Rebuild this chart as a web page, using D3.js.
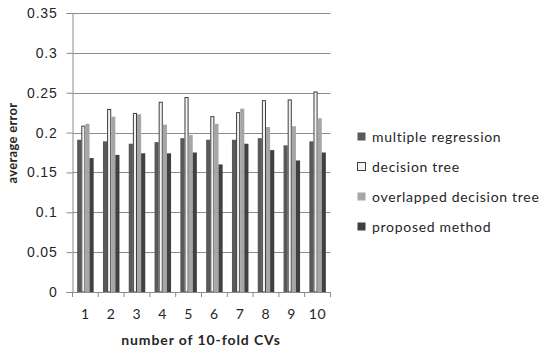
<!DOCTYPE html>
<html>
<head>
<meta charset="utf-8">
<script src="https://cdn.jsdelivr.net/npm/d3@7"></script>
<style>
  html, body { margin: 0; padding: 0; background: #fff; }
  svg { display: block; font-family: Lato, "Open Sans", sans-serif; }
</style>
</head>
<body>
<svg id="chart" width="541" height="349"></svg>
<script>
// Average error for each of ten repetitions of 10-fold cross-validation
const runs = ["1", "2", "3", "4", "5", "6", "7", "8", "9", "10"];
const seriesNames = ["multiple regression", "decision tree", "overlapped decision tree", "proposed method"];
const multipleRegression = [0.191, 0.189, 0.186, 0.188, 0.193, 0.191, 0.191, 0.193, 0.184, 0.189];
const decisionTree       = [0.208, 0.229, 0.224, 0.238, 0.244, 0.220, 0.225, 0.240, 0.241, 0.251];
const overlappedTree     = [0.211, 0.220, 0.223, 0.210, 0.197, 0.211, 0.230, 0.207, 0.208, 0.218];
const proposedMethod     = [0.168, 0.172, 0.174, 0.174, 0.175, 0.160, 0.186, 0.178, 0.165, 0.175];
const yTicks = [0, 0.05, 0.1, 0.15, 0.2, 0.25, 0.3, 0.35];

const seriesValues = [multipleRegression, decisionTree, overlappedTree, proposedMethod];
const fills   = ["#595959", "#f2f2f2", "#a6a6a6", "#404040"];
const strokes = ["none", "#404040", "none", "none"];
const textColor = "#262626";

const svg = d3.select("#chart");
const plot = { left: 72.5, right: 330.5, top: 13, bottom: 292 };

const x = d3.scaleBand().domain(runs).range([plot.left, plot.right]).paddingInner(0.36).paddingOuter(0.18);
const xs = d3.scaleBand().domain(d3.range(seriesNames.length)).range([0, x.bandwidth()]);
const y = d3.scaleLinear().domain([0, 0.35]).range([plot.bottom, plot.top]);

// Horizontal gridlines
svg.append("g")
  .selectAll("line")
  .data(yTicks.slice(1))
  .join("line")
  .attr("x1", plot.left).attr("x2", plot.right)
  .attr("y1", d => Math.round(y(d)) + 0.5).attr("y2", d => Math.round(y(d)) + 0.5)
  .attr("stroke", "#8c8c8c").attr("stroke-width", 1);

// Y axis with its labels
const yAxis = svg.append("g")
  .attr("transform", `translate(${plot.left},0)`)
  .call(d3.axisLeft(y).tickValues(yTicks).tickSize(6).tickPadding(9).tickFormat(d3.format("~g")));
yAxis.select(".domain").attr("stroke", "#8c8c8c");
yAxis.selectAll(".tick line").attr("stroke", "#8c8c8c");
yAxis.selectAll(".tick text")
  .attr("fill", textColor)
  .style("font-size", "14px")
  .style("letter-spacing", "0.8px");

// Bars
const groups = svg.append("g")
  .selectAll("g")
  .data(runs)
  .join("g")
  .attr("transform", d => `translate(${x(d)},0)`);

groups.selectAll("rect")
  .data((d, i) => seriesValues.map((vals, s) => ({ s, v: vals[i] })))
  .join("rect")
  .attr("x", d => xs(d.s) + (d.s === 1 ? 0.5 : 0))
  .attr("width", d => xs.bandwidth() - (d.s === 1 ? 1 : 0))
  .attr("y", d => y(d.v))
  .attr("height", d => y(0) - y(d.v))
  .attr("fill", d => fills[d.s])
  .attr("stroke", d => strokes[d.s])
  .attr("stroke-width", 1);

// X axis: ticks on category boundaries, labels centred under each group
const boundaries = d3.range(runs.length + 1).map(i => plot.left + i * (plot.right - plot.left) / runs.length);
const xAxis = svg.append("g");
xAxis.append("line")
  .attr("x1", plot.left).attr("x2", plot.right)
  .attr("y1", plot.bottom + 0.5).attr("y2", plot.bottom + 0.5)
  .attr("stroke", "#8c8c8c");
xAxis.selectAll("line.tk")
  .data(boundaries)
  .join("line")
  .attr("class", "tk")
  .attr("x1", d => d).attr("x2", d => d)
  .attr("y1", plot.bottom).attr("y2", plot.bottom + 5)
  .attr("stroke", "#8c8c8c");
xAxis.selectAll("text")
  .data(runs)
  .join("text")
  .attr("x", d => x(d) + x.bandwidth() / 2)
  .attr("y", 319)
  .attr("text-anchor", "middle")
  .attr("fill", textColor)
  .style("font-size", "14px")
  .style("letter-spacing", "0.8px")
  .text(d => d);

// Axis titles
svg.append("text")
  .attr("x", 201).attr("y", 345)
  .attr("text-anchor", "middle")
  .attr("fill", textColor)
  .style("font-size", "14px").style("font-weight", "bold")
  .style("letter-spacing", "0.9px")
  .text("number of 10-fold CVs");

svg.append("text")
  .attr("transform", "translate(17,143) rotate(-90)")
  .attr("text-anchor", "middle")
  .attr("fill", textColor)
  .style("font-size", "13px").style("font-weight", "bold")
  .style("letter-spacing", "0.3px")
  .text("average error");

// Legend
const legend = svg.append("g").attr("transform", "translate(357,137)");
const items = legend.selectAll("g")
  .data(seriesNames)
  .join("g")
  .attr("transform", (d, i) => `translate(0,${i * 30})`);
items.append("rect")
  .attr("x", 0.5).attr("y", -4.5)
  .attr("width", 8).attr("height", 8)
  .attr("fill", (d, i) => fills[i])
  .attr("stroke", (d, i) => strokes[i]);
items.append("text")
  .attr("x", 15).attr("y", 0)
  .attr("dy", "0.35em")
  .attr("fill", textColor)
  .style("font-size", "14px")
  .style("letter-spacing", "0.7px")
  .text(d => d);
</script>
</body>
</html>
